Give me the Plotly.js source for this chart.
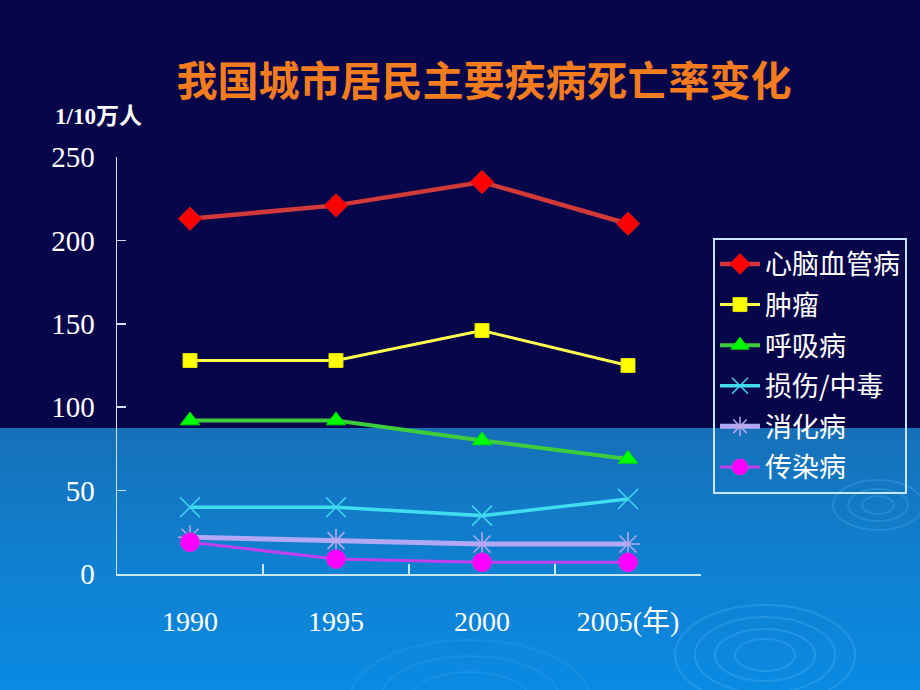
<!DOCTYPE html>
<html>
<head>
<meta charset="utf-8">
<script src="https://cdn.plot.ly/plotly-3.0.1.min.js"></script>
<style>
html,body{margin:0;padding:0;}
body{width:920px;height:690px;overflow:hidden;
background:linear-gradient(to bottom,#08064a 0px,#08064a 428px,#1670b8 428px,#0f80d0 560px,#0a8ae2 690px);}
#chart{width:920px;height:690px;}
</style>
</head>
<body>
<div id="chart"></div>
<script>
const years = ['1990', '1995', '2000', '2005(年)'];
const seriesNames = ['心脑血管病', '肿瘤', '呼吸病', '损伤/中毒', '消化病', '传染病'];
const cardio = [213, 221, 235, 210];
const tumor = [128, 128, 146, 125];
const respiratory = [92, 92, 80, 69];
const injury = [40, 40, 35, 45];
const digestive = [22, 20, 18, 18];
const infectious = [19, 9, 7, 7];
const yTicks = [0, 50, 100, 150, 200, 250];

const values = [cardio, tumor, respiratory, injury, digestive, infectious];
const styles = [
  {line:'#d23a3a', lw:4.5, sym:'diamond', size:18, mc:'#ff0000', mlc:'#c02020', mlw:1},
  {line:'#ffff50', lw:3, sym:'square', size:14, mc:'#ffff00', mlc:'#e0e000', mlw:1},
  {line:'#3ccc3c', lw:4, sym:'triangle-up', size:17, mc:'#00ff00', mlc:'#00e000', mlw:1},
  {line:'#40dcf0', lw:3.5, sym:'x-thin-open', size:20, mc:'#40d8f0', mlc:'#40d8f0', mlw:1.5},
  {line:'#b0a8f4', lw:5, sym:'asterisk-open', size:20, mc:'#b8a8f0', mlc:'#b8a8f0', mlw:1.5},
  {line:'#c040f0', lw:3, sym:'circle', size:19, mc:'#ff00ff', mlc:'#d030e0', mlw:1}
];

const traces = values.map((v, i) => ({
  type: 'scatter',
  mode: 'lines+markers',
  x: years,
  y: v,
  name: seriesNames[i],
  legendgroup: 'g' + i,
  line: {color: styles[i].line, width: styles[i].lw},
  marker: {symbol: styles[i].sym, size: styles[i].size, color: styles[i].mc,
           line: {color: styles[i].mlc, width: styles[i].mlw}}
}));

// faint decorative ripples
const ripples = [];
function ring(cx, cy, rx, ry, op) {
  ripples.push({type:'circle', xref:'paper', yref:'paper', layer:'below',
    x0:(cx-rx-117)/584, x1:(cx+rx-117)/584, y0:(574-(cy+ry))/417, y1:(574-(cy-ry))/417,
    line:{color:'rgba(120,200,255,' + op + ')', width:2}});
}
[[90,50],[70,38],[50,26],[30,16]].forEach(r => ring(765, 655, r[0], r[1], 0.22));
[[45,25],[30,16],[16,9]].forEach(r => ring(878, 505, r[0], r[1], 0.2));
[[120,60],[90,44],[60,28]].forEach(r => ring(470, 700, r[0], r[1], 0.12));

const layout = {
  width: 920, height: 690,
  paper_bgcolor: 'rgba(0,0,0,0)',
  plot_bgcolor: 'rgba(0,0,0,0)',
  margin: {l: 117, r: 219, t: 157, b: 116},
  showlegend: true,
  title: {
    text: '我国城市居民主要疾病死亡率变化',
    x: 0.526, xref: 'container', xanchor: 'center',
    y: 0.881, yref: 'container', yanchor: 'middle',
    font: {family: '"Noto Sans CJK SC", sans-serif', size: 41, color: '#f27c1e', weight: 'bold'}
  },
  xaxis: {
    type: 'category',
    range: [-0.5, 3.5],
    tickson: 'boundaries',
    ticks: 'inside', ticklen: 10, tickcolor: '#c8e6ff', tickwidth: 1.5,
    showline: true, linecolor: '#c8e6ff', linewidth: 1.5,
    showgrid: false, zeroline: false,
    ticklabelstandoff: 22,
    tickfont: {family: '"Liberation Serif", "Noto Sans CJK SC", serif', size: 28, color: '#ffffff'}
  },
  yaxis: {
    range: [0, 250],
    tickvals: yTicks,
    ticks: 'inside', ticklen: 9, tickcolor: '#d0e0ff', tickwidth: 1.5,
    showline: true, linecolor: '#d0e0ff', linewidth: 1.5,
    showgrid: false, zeroline: false,
    ticklabelstandoff: 15,
    tickfont: {family: '"Liberation Serif", serif', size: 29, color: '#ffffff'}
  },
  legend: {
    x: 1.0205, xanchor: 'left', xref: 'paper',
    y: 0.806, yanchor: 'top', yref: 'paper',
    bgcolor: 'rgba(0,0,0,0)',
    bordercolor: '#c8e6ff', borderwidth: 2,
    font: {family: '"Noto Sans CJK SC", sans-serif', size: 27, color: '#ffffff'},
    tracegroupgap: 2.5,
    itemwidth: 40
  },
  annotations: [{
    text: '1/10万人', xref: 'paper', yref: 'paper',
    x: (98.5 - 117) / 584, y: (574 - 117) / 417,
    xanchor: 'center', yanchor: 'middle', showarrow: false,
    font: {family: '"Liberation Serif", "Noto Sans CJK SC", serif', size: 23, color: '#ffffff', weight: 'bold'}
  }],
  shapes: ripples
};

Plotly.newPlot('chart', traces, layout, {displayModeBar: false, staticPlot: true});
</script>
</body>
</html>
